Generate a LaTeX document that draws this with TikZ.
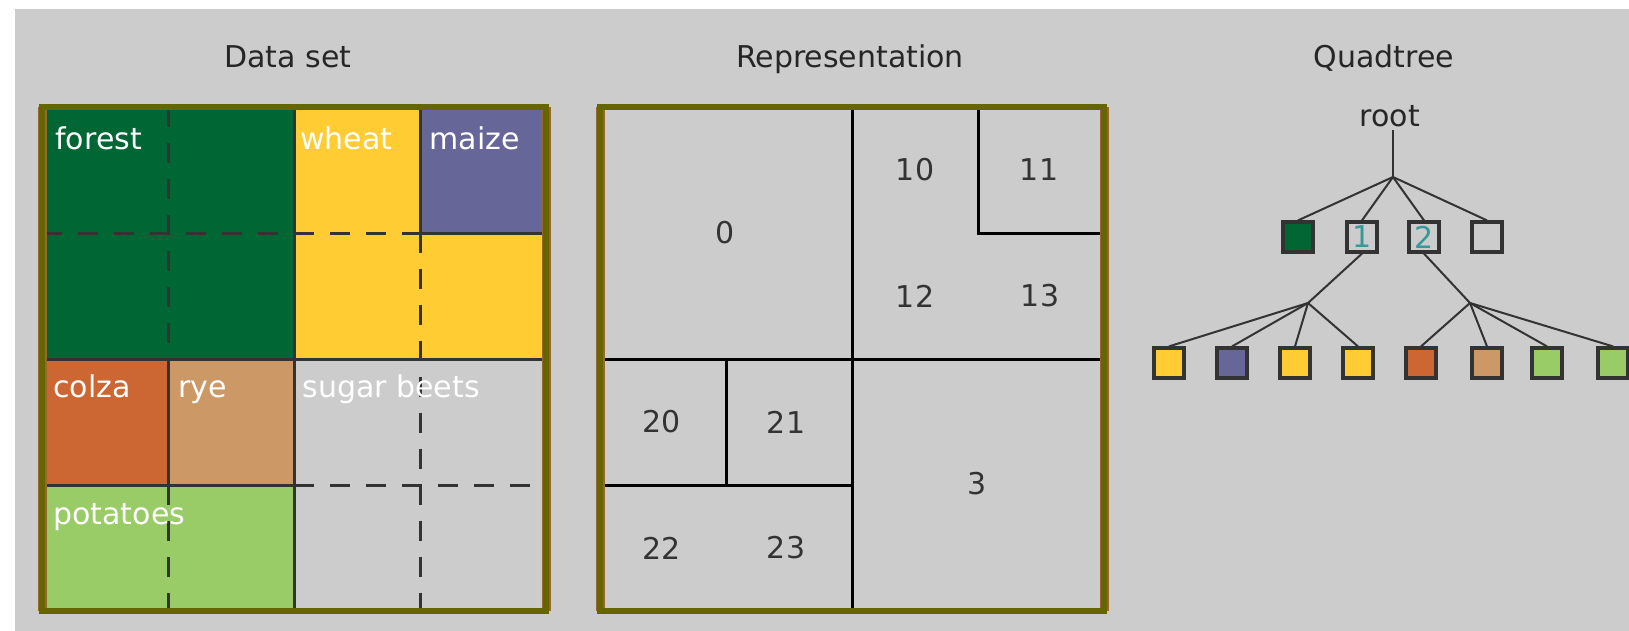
\documentclass[tikz,border=0pt]{standalone}
\usepackage{fontspec}
\setmainfont{DejaVu Sans}
\definecolor{bgGray}{HTML}{CCCCCC}
\definecolor{gridDark}{HTML}{333333}
\definecolor{frameOlive}{HTML}{666600}
\definecolor{frameBrown}{HTML}{996633}
\definecolor{cropForest}{HTML}{006633}
\definecolor{cropWheat}{HTML}{FFCC33}
\definecolor{cropMaize}{HTML}{666699}
\definecolor{cropColza}{HTML}{CC6633}
\definecolor{cropRye}{HTML}{CC9966}
\definecolor{cropPotato}{HTML}{99CC66}
\definecolor{digitTeal}{HTML}{339999}

\begin{document}
\begin{tikzpicture}[x=0.5pt,y=-0.5pt,font=\fontsize{15}{18}\selectfont,
  paneltitle/.style={anchor=base,text=black!85,inner sep=0pt},
  croplabel/.style={anchor=base west,text=white,inner sep=0pt},
  cellnum/.style={text=black!80,inner sep=0pt},
  solidcut/.style={draw=gridDark,line width=1.5pt},
  dashcut/.style={draw=gridDark,line width=1.5pt,dash pattern=on 10pt off 8pt},
  repcut/.style={draw=black,line width=1.5pt},
  qbox/.style={draw=gridDark,line width=1.6pt,minimum size=15pt,inner sep=0pt},
  qedge/.style={draw=gridDark,line width=1pt}]
  \useasboundingbox (0,0) rectangle (1629,631);
  \fill[white] (0,0) rectangle (1629,631);
  \fill[bgGray] (15,9) rectangle (1629,631);

  \node[paneltitle] (tdata) at (288,67.5) {Data set};
  \node[paneltitle] (trep) at (850,67.5) {Representation};
  \node[paneltitle] (tquad) at (1384,67.5) {Quadtree};

  \fill[cropForest] (42,107) rectangle (294,359);
  \fill[cropWheat] (294,107) rectangle (546,359);
  \fill[cropMaize] (420,107) rectangle (546,233);
  \fill[cropColza] (42,359) rectangle (168,485);
  \fill[cropRye] (168,359) rectangle (294,485);
  \fill[cropPotato] (42,485) rectangle (294,611);
  \draw[dashcut] (168,107) -- (168,359) (168,485) -- (168,611)
                 (420,233) -- (420,611) (42,233) -- (420,233) (294,485) -- (546,485);
  \draw[solidcut] (294,107) -- (294,611) (42,359) -- (546,359) (420,107) -- (420,233)
                  (420,233) -- (546,233) (168,359) -- (168,485) (42,485) -- (294,485);
  \draw[frameBrown,line width=4.5pt] (42,107) -- (42,611) (546,107) -- (546,611);
  \draw[frameOlive,line width=3pt] (42,107) rectangle (546,611);
  \node[croplabel] (forest) at (55,150) {forest};
  \node[croplabel] (wheat) at (300,150) {wheat};
  \node[croplabel] (maize) at (429,150) {maize};
  \node[croplabel] (colza) at (53,397) {colza};
  \node[croplabel] (rye) at (178,397) {rye};
  \node[croplabel] (sugar) at (302,397) {sugar beets};
  \node[croplabel] (potatoes) at (53,524) {potatoes};

  \draw[repcut] (852,107) -- (852,611) (600,359) -- (1104,359)
                (978,107) -- (978,233) -- (1104,233) (600,485) -- (852,485) (726,359) -- (726,485);
  \draw[frameBrown,line width=4.5pt] (600,107) -- (600,611) (1104,107) -- (1104,611);
  \draw[frameOlive,line width=3pt] (600,107) rectangle (1104,611);
  \node[cellnum] (r0) at (725,233) {0};
  \node[cellnum] (r10) at (915,170) {10};
  \node[cellnum] (r11) at (1039,170) {11};
  \node[cellnum] (r12) at (915,296) {12};
  \node[cellnum] (r13) at (1040,296) {13};
  \node[cellnum] (r20) at (662,422) {20};
  \node[cellnum] (r21) at (786,422) {21};
  \node[cellnum] (r22) at (662,548) {22};
  \node[cellnum] (r23) at (786,548) {23};
  \node[cellnum] (r3) at (977,484) {3};

  \node[anchor=base,inner sep=1.5pt,text=black!85] (root) at (1390,126.5) {root};
  \coordinate (fan0) at (1393,177);
  \coordinate (fan1) at (1308,303);
  \coordinate (fan2) at (1470,303);
  \node[qbox,fill=cropForest] (q0) at (1298,237) {};
  \node[qbox,text=digitTeal] (q1) at (1362,237) {1};
  \node[qbox,text=digitTeal] (q2) at (1424,237) {2};
  \node[qbox] (q3) at (1487,237) {};
  \node[qbox,fill=cropWheat] (l10) at (1169,363) {};
  \node[qbox,fill=cropMaize] (l11) at (1232,363) {};
  \node[qbox,fill=cropWheat] (l12) at (1295,363) {};
  \node[qbox,fill=cropWheat] (l13) at (1358,363) {};
  \node[qbox,fill=cropColza] (l20) at (1421,363) {};
  \node[qbox,fill=cropRye] (l21) at (1487,363) {};
  \node[qbox,fill=cropPotato] (l22) at (1547,363) {};
  \node[qbox,fill=cropPotato] (l23) at (1613,363) {};
  \draw[qedge] (root.south -| fan0) -- (fan0);
  \foreach \k in {0,...,3}
    \draw[qedge] (fan0) -- (q\k.north);
  \draw[qedge] (q1.south) -- (fan1);
  \draw[qedge] (q2.south) -- (fan2);
  \foreach \k in {10,...,13}
    \draw[qedge] (fan1) -- (l\k.north);
  \foreach \k in {20,...,23}
    \draw[qedge] (fan2) -- (l\k.north);
\end{tikzpicture}
\end{document}
